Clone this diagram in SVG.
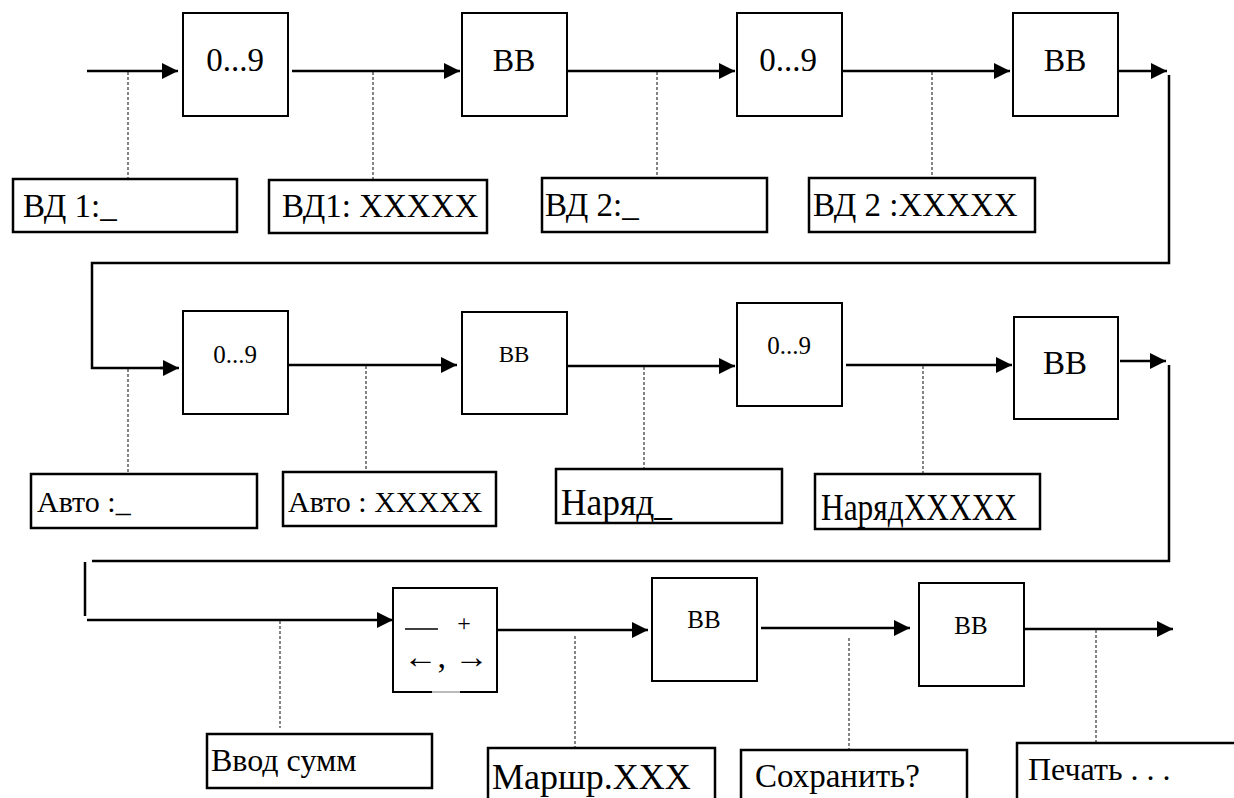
<svg xmlns="http://www.w3.org/2000/svg" width="1234" height="798" viewBox="0 0 1234 798" font-family="'Liberation Serif', 'Times New Roman', serif">
<style>
text{font-family:'Liberation Serif','Times New Roman',serif;fill:#000}
.box{fill:#fff;stroke:#000;stroke-width:2}
.lbl{fill:#fff;stroke:#000;stroke-width:2.5}
.c{text-anchor:middle}
.ln{fill:none;stroke:#000;stroke-width:2.5}
.ar{fill:none;stroke:#000;stroke-width:2.5;marker-end:url(#ah)}
.dot{fill:none;stroke:#333;stroke-width:1.2;stroke-dasharray:3,2}
.t33{font-size:33px}
.t30{font-size:30px}
</style>
<defs>
<marker id="ah" markerUnits="userSpaceOnUse" markerWidth="17" markerHeight="16" refX="16" refY="8" orient="auto"><path d="M0,0 L16,8 L0,16 z" fill="#000"/></marker>
</defs>
<rect width="1234" height="798" fill="#fff"/>
<g id="connectors">
<line class="ar" x1="87" y1="71" x2="178" y2="71"/>
<line class="ar" x1="292" y1="71" x2="460" y2="71"/>
<line class="ar" x1="567" y1="71" x2="735" y2="71"/>
<line class="ar" x1="843" y1="71" x2="1010" y2="71"/>
<line class="ar" x1="1118" y1="71" x2="1167" y2="71"/>
<polyline class="ln" points="1169,75 1169,263 92,263 92,368 165,368"/>
<line class="ar" x1="160" y1="368" x2="179" y2="368"/>
<line class="ar" x1="288" y1="365" x2="457" y2="365"/>
<line class="ar" x1="567" y1="366" x2="735" y2="366"/>
<line class="ar" x1="846" y1="365" x2="1012" y2="365"/>
<line class="ar" x1="1120" y1="361" x2="1166" y2="361"/>
<polyline class="ln" points="1169,365 1169,561 92,561"/>
<line class="ln" x1="85" y1="562" x2="85" y2="616"/>
<line class="ar" x1="87" y1="620" x2="393" y2="620"/>
<line class="ar" x1="497" y1="630" x2="648" y2="630"/>
<line class="ar" x1="761" y1="628" x2="910" y2="628"/>
<line class="ar" x1="1025" y1="629" x2="1173" y2="629"/>
<line class="dot" x1="128" y1="72" x2="128" y2="178"/>
<line class="dot" x1="373" y1="72" x2="373" y2="179"/>
<line class="dot" x1="657" y1="72" x2="657" y2="178"/>
<line class="dot" x1="932" y1="72" x2="932" y2="178"/>
<line class="dot" x1="128" y1="369" x2="128" y2="474"/>
<line class="dot" x1="366" y1="366" x2="366" y2="472"/>
<line class="dot" x1="644" y1="367" x2="644" y2="469"/>
<line class="dot" x1="923" y1="366" x2="923" y2="474"/>
<line class="dot" x1="280" y1="621" x2="280" y2="728"/>
<line class="dot" x1="575" y1="636" x2="575" y2="748"/>
<line class="dot" x1="849" y1="638" x2="849" y2="750"/>
<line class="dot" x1="1096" y1="630" x2="1096" y2="743"/>
</g>
<g id="n1"><rect class="box" x="183" y="13" width="105" height="103"/><text class="c" x="235" y="71" font-size="33">0...9</text></g>
<g id="n2"><rect class="box" x="462" y="13" width="105" height="103"/><text class="c" x="514" y="71" font-size="32">ВВ</text></g>
<g id="n3"><rect class="box" x="737" y="13" width="105" height="103"/><text class="c" x="788" y="71" font-size="33">0...9</text></g>
<g id="n4"><rect class="box" x="1013" y="13" width="105" height="103"/><text class="c" x="1065" y="71" font-size="32">ВВ</text></g>
<g id="n5"><rect class="box" x="183" y="311" width="105" height="103"/><text class="c" x="235" y="363" font-size="25">0...9</text></g>
<g id="n6"><rect class="box" x="462" y="312" width="105" height="102"/><text class="c" x="514" y="362" font-size="23">ВВ</text></g>
<g id="n7"><rect class="box" x="737" y="303" width="105" height="103"/><text class="c" x="789" y="354" font-size="25">0...9</text></g>
<g id="n8"><rect class="box" x="1014" y="317" width="104" height="102"/><text class="c" x="1065" y="374" font-size="33">ВВ</text></g>
<g id="n9"><rect class="box" x="393" y="588" width="104" height="104"/>
<line x1="432" y1="692" x2="460" y2="692" stroke="#bbb" stroke-width="2"/>
<line x1="405" y1="629" x2="438" y2="629" stroke="#000" stroke-width="1.4"/>
<text x="464" y="631" class="c" font-size="24">+</text>
<text x="446" y="668" class="c" font-size="34">←, →</text>
</g>
<g id="n10"><rect class="box" x="652" y="578" width="105" height="103"/><text class="c" x="704" y="628" font-size="25">ВВ</text></g>
<g id="n11"><rect class="box" x="919" y="583" width="105" height="103"/><text class="c" x="971" y="634" font-size="25">ВВ</text></g>
<g id="l1"><rect class="lbl" x="13" y="179" width="224" height="53"/><text class="t33" x="23" y="217">ВД 1:_</text></g>
<g id="l2"><rect class="lbl" x="269" y="180" width="218" height="53"/><text class="t33" x="282" y="217">ВД1: XXXXX</text></g>
<g id="l3"><rect class="lbl" x="542" y="178" width="225" height="54"/><text class="t33" x="545" y="216">ВД 2:_</text></g>
<g id="l4"><rect class="lbl" x="809" y="178" width="226" height="54"/><text class="t33" x="813" y="216">ВД 2 :XXXXX</text></g>
<g id="l5"><rect class="lbl" x="31" y="474" width="226" height="54"/><text class="t30" x="37" y="512">Авто :_</text></g>
<g id="l6"><rect class="lbl" x="283" y="472" width="213" height="54"/><text class="t30" x="288" y="512">Авто : XXXXX</text></g>
<g id="l7"><rect class="lbl" x="556" y="469" width="226" height="54"/><text x="561" y="515" font-size="38" textLength="111" lengthAdjust="spacingAndGlyphs">Наряд_</text></g>
<g id="l8"><rect class="lbl" x="815" y="474" width="225" height="55"/><text x="821" y="520" font-size="38" textLength="196" lengthAdjust="spacingAndGlyphs">НарядXXXXX</text></g>
<g id="l9"><rect class="lbl" x="207" y="734" width="225" height="54"/><text x="211" y="771" font-size="32">Ввод сумм</text></g>
<g id="l10"><rect class="lbl" x="488" y="748" width="227" height="60"/><text x="492" y="789" font-size="36">Маршр.XXX</text></g>
<g id="l11"><rect class="lbl" x="741" y="750" width="226" height="60"/><text x="755" y="787" font-size="33">Сохранить?</text></g>
<g id="l12"><rect class="lbl" x="1017" y="743" width="225" height="60"/><text x="1028" y="780" font-size="32">Печать . . .</text></g>
</svg>
